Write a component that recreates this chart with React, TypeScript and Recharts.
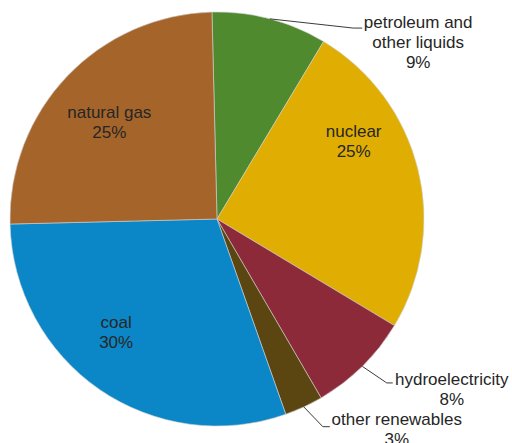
import { PieChart, Pie, Cell } from "recharts"

const categories = [
  "petroleum and\nother liquids",
  "nuclear",
  "hydroelectricity",
  "other renewables",
  "coal",
  "natural gas",
]
const shares = [9, 25, 8, 3, 30, 25]
const colors = ["#4f8a2f", "#e0ad02", "#8d2a39", "#5b4612", "#0b86c6", "#a5642a"]

const data = categories.map((name, i) => ({ name, value: shares[i] }))

// where each label sits: inside ones by polar position, outside ones by leader line elbow
type Place =
  | { type: "inside"; angle: number; r: number }
  | { type: "outside"; elbowAngle: number; elbowR: number; tail: number; textDx: number; textDy: number }

const placement: Place[] = [
  { type: "outside", elbowAngle: 54.5, elbowR: 1.133, tail: 9, textDx: 56, textDy: -6 },
  { type: "inside", angle: 29.7, r: 0.76 },
  { type: "outside", elbowAngle: -44, elbowR: 1.14, tail: 6, textDx: 59, textDy: -3 },
  { type: "outside", elbowAngle: -63, elbowR: 1.126, tail: 7, textDx: 67, textDy: -7 },
  { type: "inside", angle: -131.5, r: 0.735 },
  { type: "inside", angle: 138, r: 0.7 },
]

const RAD = Math.PI / 180
const FONT = "'Liberation Sans', Arial, sans-serif"
const LINE_H = 20

function renderLabel(props: any) {
  const { cx, cy, midAngle, outerRadius, index, name, value } = props
  const p = placement[index]
  const lines = [...String(name).split("\n"), `${value}%`]

  if (p.type === "inside") {
    const x = cx + outerRadius * p.r * Math.cos(p.angle * RAD)
    const y = cy - outerRadius * p.r * Math.sin(p.angle * RAD)
    const top = y - ((lines.length - 1) * LINE_H) / 2
    return (
      <text x={x} y={top} textAnchor="middle" fill="#262626" fontSize={17} fontFamily={FONT}>
        {lines.map((l, i) => (
          <tspan key={i} x={x} y={top + i * LINE_H} dominantBaseline="central">
            {l}
          </tspan>
        ))}
      </text>
    )
  }

  const sx = cx + outerRadius * Math.cos(midAngle * RAD)
  const sy = cy - outerRadius * Math.sin(midAngle * RAD)
  const ex = cx + outerRadius * p.elbowR * Math.cos(p.elbowAngle * RAD)
  const ey = cy - outerRadius * p.elbowR * Math.sin(p.elbowAngle * RAD)
  const tx = ex + p.tail
  const textX = tx + p.textDx
  const top = ey + p.textDy
  return (
    <g>
      <polyline points={`${sx},${sy} ${ex},${ey} ${tx},${ey}`} fill="none" stroke="#3a3a3a" strokeWidth={1} />
      <text x={textX} y={top} textAnchor="middle" fill="#262626" fontSize={17} fontFamily={FONT}>
        {lines.map((l, i) => (
          <tspan key={i} x={textX} y={top + i * LINE_H} dominantBaseline="central">
            {l}
          </tspan>
        ))}
      </text>
    </g>
  )
}

export default function App() {
  return (
    <div style={{ position: "absolute", left: 0, top: 0, width: 512, height: 443, background: "#fff" }}>
      <PieChart width={512} height={443} margin={{ top: 0, right: 0, bottom: 0, left: 0 }}>
        <Pie
          data={data}
          dataKey="value"
          nameKey="name"
          cx={217}
          cy={219}
          outerRadius={207}
          startAngle={91.4}
          endAngle={-268.6}
          stroke="#d0d0d0"
          strokeWidth={0.6}
          label={renderLabel}
          labelLine={false}
          isAnimationActive={false}
        >
          {data.map((d, i) => (
            <Cell key={d.name} fill={colors[i]} />
          ))}
        </Pie>
      </PieChart>
    </div>
  )
}
